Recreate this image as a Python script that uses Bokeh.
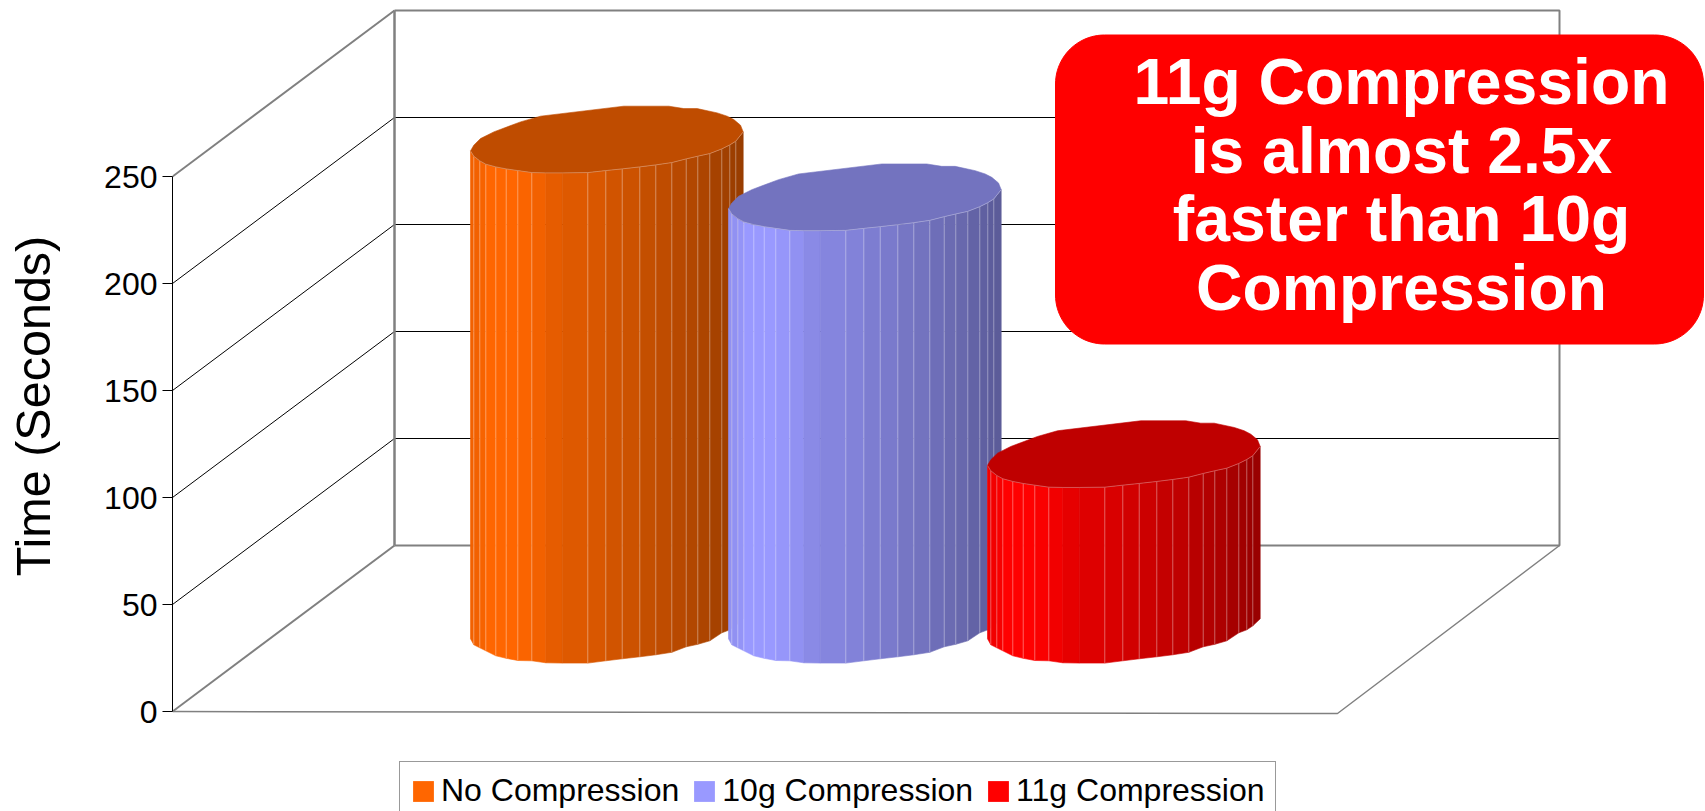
import numpy as np
from bokeh.plotting import figure
from bokeh.models import Range1d, FixedTicker, Legend, LegendItem
from bokeh.core.properties import value
from bokeh.embed import file_html
from bokeh.resources import INLINE

# ---- data ----
series = ["No Compression", "10g Compression", "11g Compression"]
times = [228, 201, 81]
base_colors = ["#FF6600", "#9999FF", "#FF0000"]
tick_values = [0, 50, 100, 150, 200, 250]
callout_lines = ["11g Compression", "is almost 2.5x", "faster than 10g", "Compression"]

# ---- faceted cylinder profile (pixel offsets from a bar's left edge) ----
facet_x = [0, 3.3, 9.3, 15.3, 25.3, 35.7, 47.3, 61.3, 75.3, 91.7, 117.3, 135.3, 151.7, 169.3,
           185.3, 201.3, 215.7, 227.3, 239.3, 251.3, 259.3, 265.3, 272.7]
front_top = [0, 5.3, 10, 13.3, 16, 18, 19.7, 21.7, 22, 22, 21.7, 19.7, 18, 16,
             14, 11.7, 8, 5.3, 2.7, -2, -6, -9.7, -19]
front_bot = [0, 6, 9, 12, 17, 19.5, 21.7, 22, 24, 24.3, 24.3, 22, 20, 18,
             16, 13.5, 8, 5.5, 2, -6, -9, -13, -20]
back_x = [272.7, 270, 263.3, 256.7, 246.7, 226.7, 213.3, 198.3, 153.3, 70, 50, 23.3, 10, 3.3, 0]
back_y = [-19, -25.7, -31.3, -34.7, -38, -42.3, -42.3, -44.7, -44.7, -34.7, -29, -19, -12.3, -5.7, 0]
shade = [.95, .95, .97, 1, 1, 1, .98, .95, .90, .87, .85, .82, .80, .77, .75, .72, .70, .68, .65,
         .63, .61, .60]
seam_at = [1, 2, 3, 4, 5, 6, 7, 10, 11, 12, 13, 14, 15, 16, 17, 18, 19, 20, 21]
top_shade = 0.75

# ---- layout (pixels) ----
W, H = 1705, 811
FRAME_LEFT = 172
Y0, PX_PER_UNIT = 711.0, 2.14
bar_left = [470, 728, 987]
bar_floor = 638.3
DEPTH_X, DEPTH_Y = 222, 166


def v(py):
    return (Y0 - py) / PX_PER_UNIT


def off(d):
    return d / PX_PER_UNIT


def tint(hexcol, f):
    r, g, b = [int(hexcol[i:i + 2], 16) for i in (1, 3, 5)]
    return "#%02X%02X%02X" % (round(r * f), round(g * f), round(b * f))


p = figure(width=W, height=H, output_backend="svg", toolbar_location=None,
           x_range=Range1d(FRAME_LEFT, W),
           y_range=Range1d(v(H), v(0)),
           min_border_left=FRAME_LEFT, min_border_right=0, min_border_top=0,
           min_border_bottom=0,
           x_axis_location=None, outline_line_color=None, background_fill_color="white",
           border_fill_color="white")
p.grid.visible = False

# y axis
ax = p.yaxis[0]
ax.ticker = FixedTicker(ticks=tick_values)
ax.bounds = (tick_values[0], tick_values[-1])
ax.major_tick_out = 10
ax.major_tick_in = 0
ax.minor_tick_line_color = None
ax.major_label_text_font = "Liberation Sans"
ax.major_label_text_font_size = "32px"
ax.major_label_text_color = "black"
ax.major_label_standoff = 5
ax.axis_line_color = "black"
ax.major_tick_line_color = "black"
ax.axis_label = "Time (Seconds)"
ax.axis_label_text_font = "Liberation Sans"
ax.axis_label_text_font_size = "48.5px"
ax.axis_label_text_font_style = "normal"
ax.axis_label_text_color = "black"
ax.axis_label_standoff = 41

# 3-D walls
GREY = "#808080"
depth_v = off(DEPTH_Y)
wx0, wx1 = FRAME_LEFT + DEPTH_X, 1559
for t in tick_values[1:-1]:
    p.line([FRAME_LEFT, wx0], [t, t + depth_v], line_color="black", line_width=1)
    p.line([wx0, wx1], [t + depth_v, t + depth_v], line_color="black", line_width=1)
top = tick_values[-1]
p.line([FRAME_LEFT, wx0], [top, top + depth_v], line_color=GREY, line_width=2)
p.line([FRAME_LEFT, wx0], [0, depth_v], line_color=GREY, line_width=2)
p.line([wx0, wx0], [depth_v, top + depth_v], line_color=GREY, line_width=2.5)
p.line([wx0, wx1, wx1, wx0], [top + depth_v, top + depth_v, depth_v, depth_v], line_color=GREY, line_width=2)
p.line([FRAME_LEFT, 1337, wx1], [0, v(713), depth_v], line_color=GREY, line_width=1.5)

# cylinders
legend_items = []
floor = v(bar_floor)
for name, t, col, left in zip(series, times, base_colors, bar_left):
    xs, ys, fills = [], [], []
    for i in range(len(facet_x) - 1):
        x0, x1 = left + facet_x[i], left + facet_x[i + 1]
        xs.append([x0, x1, x1, x0])
        ys.append([floor + t - off(front_top[i]), floor + t - off(front_top[i + 1]),
                   floor - off(front_bot[i + 1]), floor - off(front_bot[i])])
        fills.append(tint(col, shade[i]))
    p.patches(xs, ys, fill_color=fills, line_color=fills, line_width=0.6)
    seams_x = [[left + facet_x[i]] * 2 for i in seam_at]
    seams_y = [[floor + t - off(front_top[i]), floor - off(front_bot[i])] for i in seam_at]
    p.multi_line(seams_x, seams_y, line_color="white", line_alpha=0.35, line_width=1)
    top_x = [left + d for d in facet_x] + [left + d for d in back_x]
    top_y = [floor + t - off(d) for d in front_top] + [floor + t - off(d) for d in back_y]
    p.patch(top_x, top_y, fill_color=tint(col, top_shade), line_color=tint(col, top_shade), line_width=0.6)
    p.line([left + d for d in facet_x], [floor + t - off(d) for d in front_top],
           line_color="white", line_alpha=0.3, line_width=1)
    swatch = p.quad(left=[left], right=[left], top=[floor], bottom=[floor], fill_color=col, line_color=None)
    legend_items.append(LegendItem(label=name, renderers=[swatch]))

# callout
CL, CR, CT, CB, CRAD = 1055, 1703, 34.5, 343.5, 49
ang = np.linspace(0, np.pi / 2, 24)
cx = np.concatenate([CR - CRAD + CRAD * np.cos(ang), CL + CRAD - CRAD * np.sin(ang),
                     CL + CRAD - CRAD * np.cos(ang), CR - CRAD + CRAD * np.sin(ang)])
cy = np.concatenate([CT + CRAD - CRAD * np.sin(ang), CT + CRAD - CRAD * np.cos(ang),
                     CB - CRAD + CRAD * np.sin(ang), CB - CRAD + CRAD * np.cos(ang)])
p.patch(list(cx), [v(y) for y in cy], fill_color="#FF0000", line_color="#FF0000", line_width=1)
baselines = [81, 150, 218, 287]
p.text(x=[1401] * 4, y=[v(b) for b in baselines], text=callout_lines, text_align="center",
       text_baseline="alphabetic", text_color="white", text_font=value("Liberation Sans"),
       text_font_style="bold", text_font_size="64.3px")

# legend
leg = Legend(items=legend_items, orientation="horizontal",
             location=(399 - FRAME_LEFT, H - 762 - 58),
             glyph_width=26, glyph_height=26, label_standoff=5, spacing=12, padding=10,
             margin=0, label_text_font="Liberation Sans", label_text_font_size="32px",
             label_text_color="black", border_line_color="#333333", border_line_width=1,
             background_fill_color="white", background_fill_alpha=1)
p.add_layout(leg, "center")

open("out.html", "w").write(file_html(p, INLINE))
